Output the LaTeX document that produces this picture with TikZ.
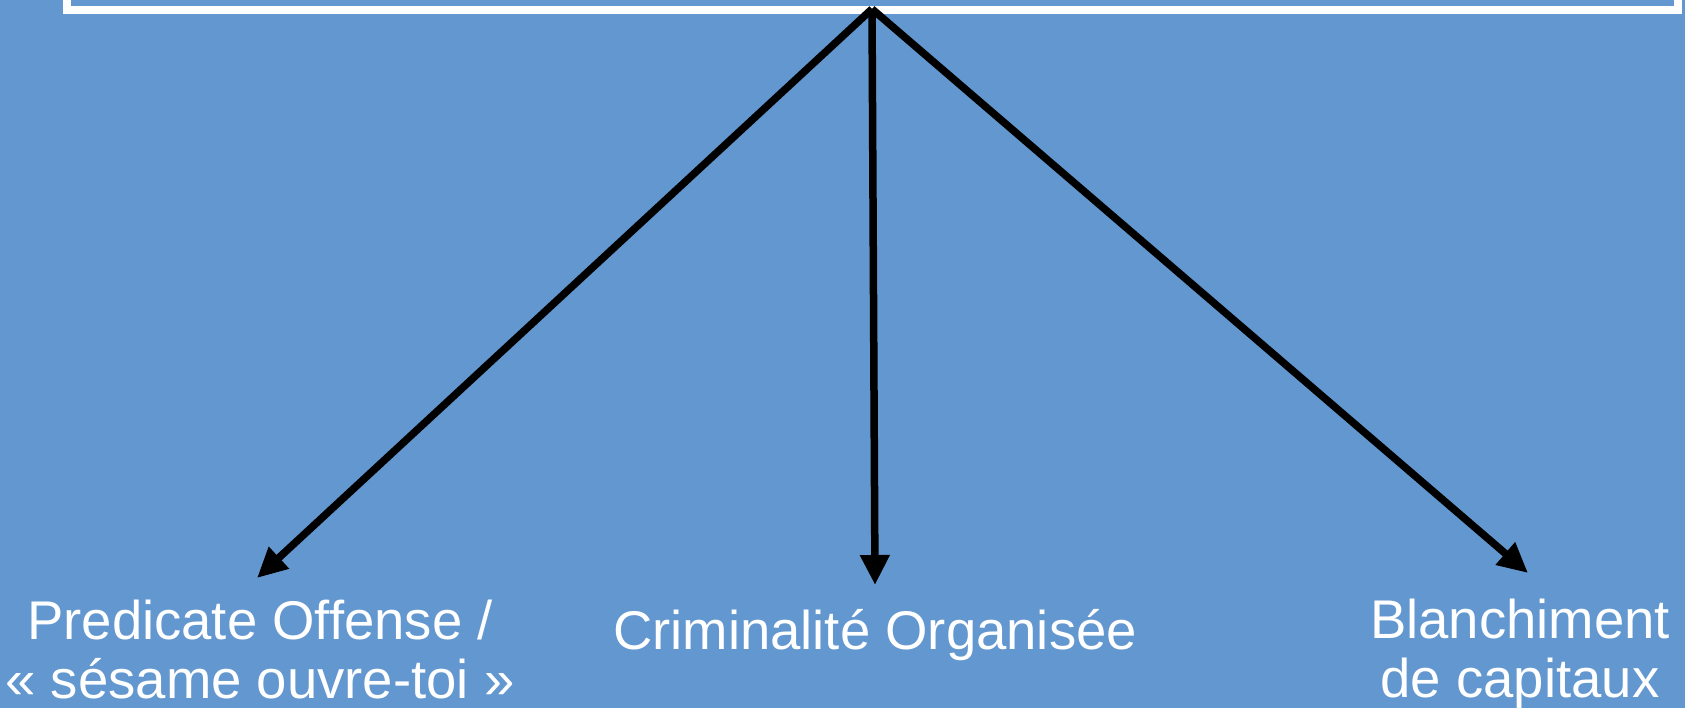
\documentclass[tikz,border=0pt]{standalone}
\usepackage{fontspec}
\setmainfont{Liberation Sans}
\usetikzlibrary{arrows.meta}
\definecolor{bgblue}{RGB}{99,151,207}
\tikzset{
  conn/.style={line width=7.5pt, draw=black, -{Triangle[length=30pt,width=28pt]}},
  lbl/.style={text=white, align=center, anchor=base, inner sep=0pt, font=\fontsize{54.5}{59}\selectfont},
  topbox/.style={draw=white, line width=7.5pt, minimum width=1611pt, minimum height=40pt, inner sep=0pt}
}
\begin{document}
\begin{tikzpicture}[x=1pt,y=-1pt]
\useasboundingbox (0,0) rectangle (1685,708);
\fill[bgblue] (0,0) rectangle (1685,708);
\node[topbox] (top) at (872.5,-10) {};
\coordinate (apex) at (872,9);
\coordinate (tipL) at (257,578);
\coordinate (tipM) at (875,585);
\coordinate (tipR) at (1528,573);
\draw[conn] (apex) -- (tipL);
\draw[conn] (apex) -- (tipM);
\draw[conn] (apex) -- (tipR);
\node[lbl] (pred) at (260,698) {Predicate Offense /\\« sésame ouvre-toi »};
\node[lbl] (crim) at (875,649) {Criminalité Organisée};
\node[lbl] (blan) at (1520,697) {Blanchiment\\de capitaux};
\end{tikzpicture}
\end{document}
